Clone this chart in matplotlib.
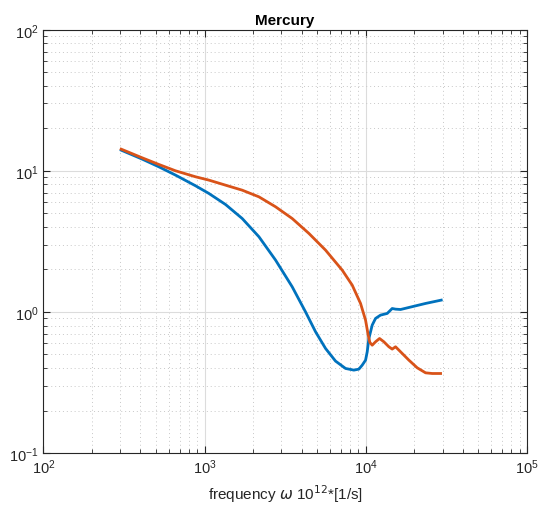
import numpy as np
import matplotlib.pyplot as plt
from matplotlib.ticker import LogLocator, NullFormatter

plt.rcParams['font.family'] = ['Liberation Sans', 'DejaVu Sans']

# frequency (10^12 1/s) and values
freq_blue = [304, 410.6, 520.9, 661, 879.5, 1064, 1350, 1713, 2174, 2757,
             3498, 4232, 4882, 5632, 6496, 7494, 8440, 9067, 9508, 9972,
             10212, 10457, 10967, 11502, 12352, 13585, 14590, 15306, 16440,
             18520, 23500, 29390]
val_blue = [14.01, 12.1, 10.67, 9.32, 7.83, 6.91, 5.77, 4.59, 3.41, 2.33,
            1.506, 1.00, 0.723, 0.5506, 0.448, 0.3973, 0.3867, 0.393, 0.4195, 0.455,
            0.5216, 0.648, 0.806, 0.899, 0.949, 0.975, 1.057, 1.046, 1.040,
            1.075, 1.148, 1.212]

freq_orange = [304, 410.6, 520.9, 661, 879.5, 1064, 1350, 1713, 2174, 2757,
               3498, 4439, 5632, 7145, 8241, 9284, 9972, 10359, 10607, 10967,
               11502, 12177, 12953, 13912, 14590, 15306, 16440, 18520, 20860,
               23500, 25840, 29110]
val_orange = [14.24, 12.36, 11.09, 10.0, 9.07, 8.59, 7.91, 7.29, 6.54, 5.56,
              4.59, 3.60, 2.74, 1.977, 1.548, 1.148, 0.874, 0.684, 0.607, 0.581,
              0.614, 0.648, 0.614, 0.566, 0.545, 0.566, 0.5216, 0.455, 0.4016,
              0.370, 0.366, 0.366]

fig = plt.figure(figsize=(5.38, 5.10), dpi=100)
ax = fig.add_axes([0.0805, 0.1098, 0.899, 0.830])

ax.loglog(freq_blue, val_blue, color='#0072BD', lw=2.0)
ax.loglog(freq_orange, val_orange, color='#D95319', lw=2.0)

ax.set_xlim(1e2, 1e5)
ax.set_ylim(1e-1, 1e2)
ax.xaxis.set_major_locator(LogLocator(base=10, numticks=10))
ax.yaxis.set_major_locator(LogLocator(base=10, numticks=10))
ax.xaxis.set_minor_locator(LogLocator(base=10, subs=np.arange(2, 10), numticks=20))
ax.yaxis.set_minor_locator(LogLocator(base=10, subs=np.arange(2, 10), numticks=20))
ax.xaxis.set_minor_formatter(NullFormatter())
ax.yaxis.set_minor_formatter(NullFormatter())

ax.grid(True, which='major', color='#dcdcdc', lw=0.8, ls='-')
ax.grid(True, which='minor', color='#c8c8c8', lw=0.7, ls=(0, (1, 3)))
ax.set_axisbelow(True)

ax.tick_params(which='both', direction='in', top=True, right=True,
               colors='#262626', labelsize=10.5)
ax.tick_params(which='major', length=5, width=0.8)
ax.tick_params(which='minor', length=3, width=0.6)
for s in ax.spines.values():
    s.set_color('#262626')
    s.set_linewidth(0.8)

ax.set_title('Mercury', fontsize=11, fontweight='bold', pad=4)
ax.set_xlabel(r'frequency $\omega$ 10$^{12}$*[1/s]', fontsize=11, color='#262626')

plt.savefig('out.png', dpi=100)
plt.close()
